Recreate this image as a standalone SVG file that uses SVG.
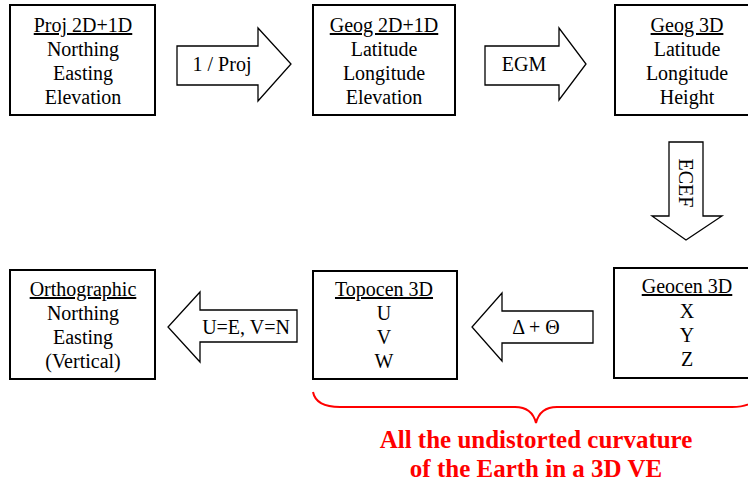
<svg xmlns="http://www.w3.org/2000/svg" width="748" height="485" viewBox="0 0 748 485">
<style>
.box{fill:#fff;stroke:#000;stroke-width:2}
.arr{fill:#fff;stroke:#000;stroke-width:1.3;stroke-linejoin:miter}
.h{text-decoration:underline}
.red{fill:#ff0000;font-weight:bold;font-size:25px}
</style>
<rect width="748" height="485" fill="#fff"/>
<g font-family="Liberation Serif, DejaVu Serif, Noto Serif, Tinos, Georgia, serif" font-size="20" text-anchor="middle" fill="#000">
<g id="connectors">
  <polygon class="arr" points="177,46 258,46 258,28 291,64 258,101 258,85 177,85"/>
  <text x="222" y="71">1 / Proj</text>
  <polygon class="arr" points="485,46 559,46 559,28 586,64 559,100 559,85 485,85"/>
  <text x="524" y="71">EGM</text>
  <polygon class="arr" points="669,142 703,142 703,216 722,216 686,240 652,216 669,216"/>
  <text transform="translate(679,183) rotate(90)">ECEF</text>
  <polygon class="arr" points="593,311 502,311 502,293 472,327 502,361 502,343 593,343"/>
  <text x="536" y="334">Δ + Θ</text>
  <polygon class="arr" points="297,310 200,310 200,292 168,327 200,362 200,342 297,342"/>
  <text x="246" y="334">U=E, V=N</text>
  <path d="M313,392 Q316,407 340,407 L515,407 Q532,407 536,423 Q540,407 557,407 L732,407 Q756,407 759,392" fill="none" stroke="#ff0000" stroke-width="2"/>
</g>
<g id="proj">
  <rect class="box" x="10" y="5" width="145" height="110"/>
  <text class="h" x="83" y="32">Proj 2D+1D</text>
  <text x="83" y="56">Northing</text>
  <text x="83" y="80">Easting</text>
  <text x="83" y="104">Elevation</text>
</g>
<g id="geog2d">
  <rect class="box" x="313" y="5" width="142" height="110"/>
  <text class="h" x="384" y="32">Geog 2D+1D</text>
  <text x="384" y="56">Latitude</text>
  <text x="384" y="80">Longitude</text>
  <text x="384" y="104">Elevation</text>
</g>
<g id="geog3d">
  <rect class="box" x="615" y="5" width="140" height="110"/>
  <text class="h" x="687" y="32">Geog 3D</text>
  <text x="687" y="56">Latitude</text>
  <text x="687" y="80">Longitude</text>
  <text x="687" y="104">Height</text>
</g>
<g id="geocen">
  <rect class="box" x="614" y="268" width="140" height="110"/>
  <text class="h" x="687" y="293">Geocen 3D</text>
  <text x="687" y="318">X</text>
  <text x="687" y="342">Y</text>
  <text x="687" y="366">Z</text>
</g>
<g id="topocen">
  <rect class="box" x="313" y="271" width="144" height="108"/>
  <text class="h" x="384" y="296">Topocen 3D</text>
  <text x="384" y="320">U</text>
  <text x="384" y="344">V</text>
  <text x="384" y="368">W</text>
</g>
<g id="ortho">
  <rect class="box" x="10" y="270" width="145" height="109"/>
  <text class="h" x="83" y="296">Orthographic</text>
  <text x="83" y="320">Northing</text>
  <text x="83" y="344">Easting</text>
  <text x="83" y="368">(Vertical)</text>
</g>
<g id="note">
  <text class="red" x="536" y="448">All the undistorted curvature</text>
  <text class="red" x="536" y="477">of the Earth in a 3D VE</text>
</g>
</g>
</svg>
